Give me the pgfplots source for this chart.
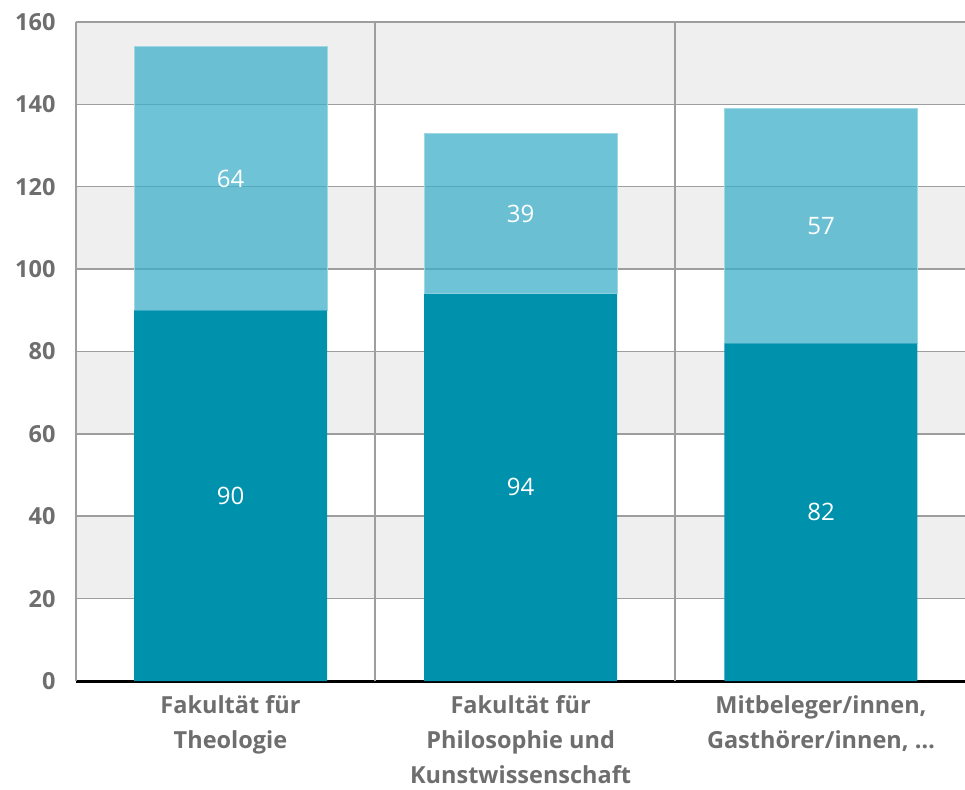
\documentclass[border=0pt]{standalone}
\usepackage{fontspec}
\setmainfont{Open Sans}
\newfontfamily\valfont{Open Sans}
\usepackage{pgfplots}
\pgfplotsset{compat=1.18}

\definecolor{tealdark}{RGB}{0,145,173}
\definecolor{teallight}{RGB}{63,175,202}
\definecolor{tealedge}{RGB}{160,215,228}
\definecolor{band}{RGB}{239,239,239}
\definecolor{gridgrey}{RGB}{158,158,158}
\definecolor{ticktext}{RGB}{110,110,110}

\begin{document}
\begin{tikzpicture}
\begin{axis}[
    scale only axis,
    width=889pt, height=659pt,
    ybar stacked,
    bar width=193pt,
    xmin=-0.515, xmax=2.448,
    ymin=0, ymax=160,
    ytick={0,20,...,160},
    xtick={0,0.967,1.968},
    xticklabels={
        {Fakultät für\\Theologie},
        {Fakultät für\\Philosophie und\\Kunstwissenschaft},
        {Mitbeleger/innen,\\Gasthörer/innen, …}
    },
    extra x ticks={0.482,1.482},
    extra x tick labels={},
    extra x tick style={grid=major},
    ymajorgrids,
    major grid style={gridgrey, line width=1.5pt},
    axis x line*=bottom,
    axis y line*=left,
    x axis line style={black, line width=3pt, -},
    y axis line style={gridgrey, line width=1.5pt, -},
    major tick length=0pt,
    % alternating grey bands (20-40, 60-80, 100-120, 140-160)
    axis background/.style={
        path picture={
            \foreach \a/\b in {0.875/1,0.625/0.75,0.375/0.5,0.125/0.25}
                \fill[band] ([yshift=\a*659pt]path picture bounding box.south west)
                    rectangle ([yshift=\b*659pt]path picture bounding box.south east);
        }
    },
    /pgf/number format/assume math mode=true,
    yticklabel style={
        font=\fontsize{23.5}{24}\selectfont\bfseries,
        text=ticktext, xshift=-17pt
    },
    xticklabel style={
        font=\fontsize{23.5}{35}\selectfont\bfseries,
        text=ticktext, align=center, yshift=-11pt
    },
    nodes near coords,
    every node near coord/.style={
        text=white, fill opacity=1, text opacity=1,
        font=\valfont\fontsize{24}{24}\selectfont
    },
]
    \addplot[fill=tealdark, draw=none] coordinates {
        (0,90) (0.967,94) (1.968,82)
    };
    \addplot[fill=teallight, fill opacity=0.75, draw=tealedge, line width=1pt] coordinates {
        (0,64) (0.967,39) (1.968,57)
    };
\end{axis}
\pgfresetboundingbox
\path[use as bounding box] ([xshift=-76pt,yshift=-108pt]current axis.south west)
    rectangle ([yshift=22pt]current axis.north east);
\end{tikzpicture}
\end{document}
